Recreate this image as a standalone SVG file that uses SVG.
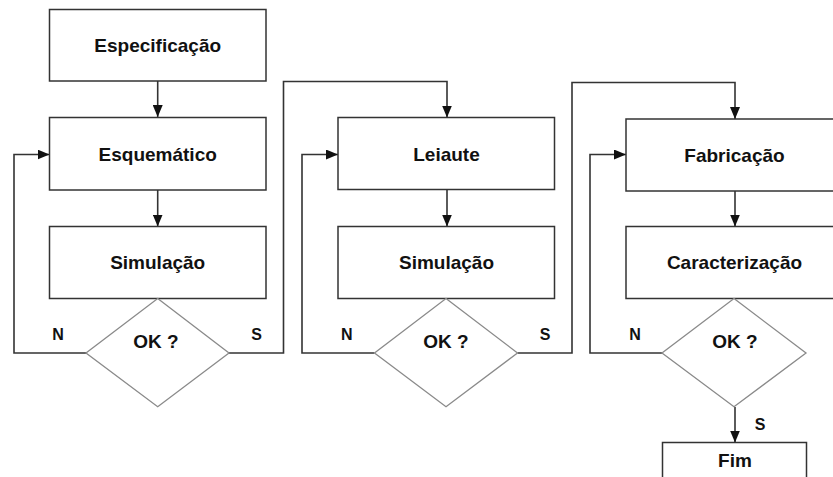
<svg xmlns="http://www.w3.org/2000/svg" width="833" height="477" viewBox="0 0 833 477">
<defs>
<style>
.box{fill:#fff;stroke:#333;stroke-width:1.5}
.dia{fill:#fff;stroke:#8a8a8a;stroke-width:1.3}
.t{font-family:"Liberation Sans",Arial,sans-serif;font-weight:bold;font-size:19px;fill:#111;text-anchor:middle}
.l{font-family:"Liberation Sans",Arial,sans-serif;font-weight:bold;font-size:16px;fill:#111;text-anchor:middle}
.c{fill:none;stroke:#333;stroke-width:1.6}
</style>
<marker id="ah" viewBox="0 0 12 10" refX="12" refY="5" markerWidth="12" markerHeight="10" markerUnits="userSpaceOnUse" orient="auto">
<path d="M0,0 L12,5 L0,10 Z" fill="#111"/>
</marker>
</defs>
<rect width="833" height="477" fill="#fff"/>
<g id="connectors">
<path class="c" d="M157.7,81 V117" marker-end="url(#ah)"/>
<path class="c" d="M157.7,190 V226.5" marker-end="url(#ah)"/>
<path class="c" d="M86,353 H14 V154.5 H49.5" marker-end="url(#ah)"/>
<path class="c" d="M229,353 H283.5 V81.5 H447 V117.5" marker-end="url(#ah)"/>
<path class="c" d="M447,189.5 V226.5" marker-end="url(#ah)"/>
<path class="c" d="M374.5,353 H302 V154.5 H338" marker-end="url(#ah)"/>
<path class="c" d="M517.5,353 H572 V82.5 H735 V119" marker-end="url(#ah)"/>
<path class="c" d="M735,191 V226.5" marker-end="url(#ah)"/>
<path class="c" d="M662,353 H590 V154.5 H626" marker-end="url(#ah)"/>
<path class="c" d="M735,407 V442.5" marker-end="url(#ah)"/>
</g>
<g id="especificacao"><rect class="box" x="49.5" y="9.5" width="216.5" height="71.5"/><text class="t" x="157.7" y="52">Especificação</text></g>
<g id="esquematico"><rect class="box" x="49.5" y="117.5" width="216.5" height="72.5"/><text class="t" x="157.7" y="160.5">Esquemático</text></g>
<g id="simulacao1"><rect class="box" x="49.5" y="226.5" width="216.5" height="72"/><text class="t" x="157.7" y="269">Simulação</text></g>
<g id="ok1"><polygon class="dia" points="157.7,298.5 229,353 157.7,406.7 86,353"/><text class="t" x="156" y="348.3">OK ?</text><text class="l" x="58" y="340">N</text><text class="l" x="256.7" y="340">S</text></g>
<g id="leiaute"><rect class="box" x="338" y="117.5" width="216.5" height="72"/><text class="t" x="446.5" y="160.5">Leiaute</text></g>
<g id="simulacao2"><rect class="box" x="338" y="226.5" width="216.5" height="72"/><text class="t" x="446.5" y="269">Simulação</text></g>
<g id="ok2"><polygon class="dia" points="446,298.5 517.5,353 446,406.7 374.5,353"/><text class="t" x="446" y="348.3">OK ?</text><text class="l" x="346.7" y="340">N</text><text class="l" x="545" y="340">S</text></g>
<g id="fabricacao"><rect class="box" x="626" y="119" width="217" height="72"/><text class="t" x="734.5" y="161.5">Fabricação</text></g>
<g id="caracterizacao"><rect class="box" x="626" y="226.5" width="217" height="72"/><text class="t" x="734.5" y="269">Caracterização</text></g>
<g id="ok3"><polygon class="dia" points="734,298.5 806,353 734,406.7 662,353"/><text class="t" x="735" y="348.3">OK ?</text><text class="l" x="635" y="340">N</text><text class="l" x="760" y="430">S</text></g>
<g id="fim"><rect class="box" x="662.5" y="442.5" width="144" height="50"/><text class="t" x="735" y="466.5">Fim</text></g>
</svg>
